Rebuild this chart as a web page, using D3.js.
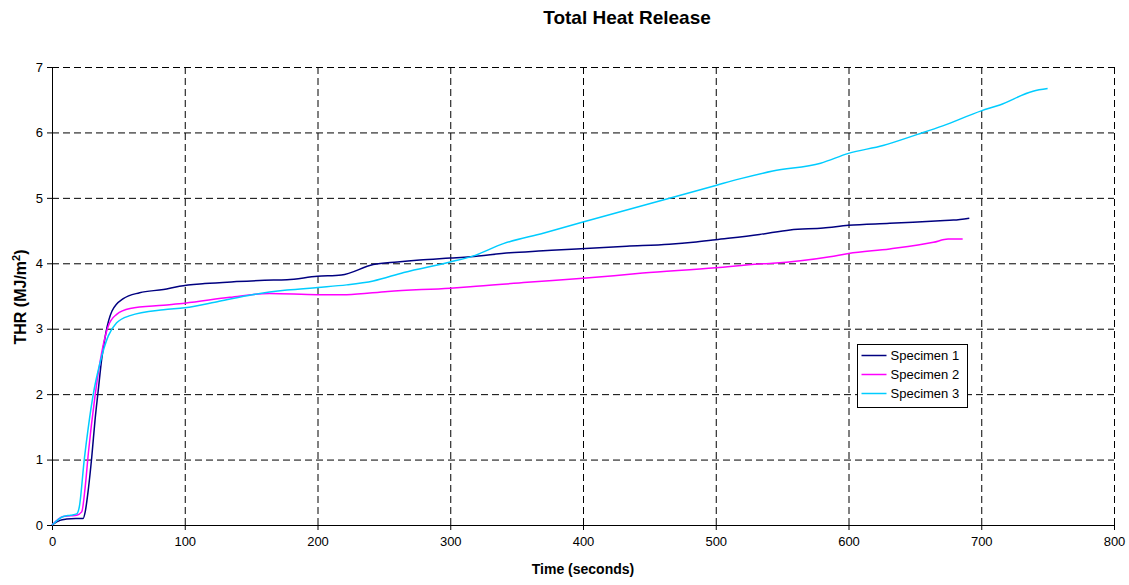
<!DOCTYPE html>
<html>
<head>
<meta charset="utf-8">
<script src="https://cdn.jsdelivr.net/npm/d3@7"></script>
<style>
  body { margin: 0; background: #fff; }
  text { font-family: "Liberation Sans", Arial, sans-serif; }
</style>
</head>
<body>
<div id="chart"></div>
<script>
// time in seconds, THR in MJ/m2
const seriesNames = ["Specimen 1", "Specimen 2", "Specimen 3"];
const seriesColors = ["#000080", "#ff00ff", "#00ccff"];

const spec1Time = [0, 6, 11, 18, 23.5, 25, 27.4, 30, 32.4, 34.9, 37.4, 40.6, 45.2, 53.7, 66, 84, 96, 115, 139, 160, 177, 200, 218, 242, 260, 277, 300, 315, 345, 370, 395, 433, 465, 483, 500, 533, 556, 581, 600, 631, 669, 679, 691];
const spec1Thr  = [0, 0.07, 0.09, 0.1, 0.1, 0.2, 0.55, 1.05, 1.6, 2.07, 2.53, 2.94, 3.27, 3.46, 3.55, 3.6, 3.65, 3.69, 3.72, 3.74, 3.75, 3.8, 3.82, 3.98, 4.02, 4.05, 4.08, 4.1, 4.16, 4.19, 4.22, 4.26, 4.29, 4.32, 4.36, 4.44, 4.51, 4.54, 4.58, 4.61, 4.65, 4.66, 4.69];

const spec2Time = [0, 8.5, 14, 18.6, 22.4, 24.9, 27.4, 32.4, 37.4, 42.4, 48.7, 58.8, 84, 100, 134, 164, 200, 222, 253, 300, 315, 358, 400, 445, 500, 533, 543, 586, 600, 631, 664, 675, 686];
const spec2Thr  = [0, 0.13, 0.14, 0.15, 0.2, 0.56, 1.1, 1.97, 2.63, 3.04, 3.22, 3.31, 3.36, 3.39, 3.48, 3.54, 3.52, 3.52, 3.57, 3.62, 3.64, 3.71, 3.77, 3.85, 3.93, 3.99, 4.0, 4.1, 4.15, 4.22, 4.32, 4.37, 4.37];

const spec3Time = [0, 8.5, 14, 18.6, 20.6, 24.3, 27.4, 31.1, 36.2, 42.4, 48.7, 58.8, 84, 100, 126, 151, 177, 200, 222, 242, 265, 300, 317, 340, 370, 400, 450, 500, 518, 543, 579, 600, 626, 652, 671, 700, 714, 739, 750];
const spec3Thr  = [0, 0.13, 0.15, 0.17, 0.28, 1.0, 1.5, 2.0, 2.48, 2.89, 3.09, 3.2, 3.29, 3.32, 3.42, 3.52, 3.59, 3.63, 3.67, 3.73, 3.86, 4.02, 4.11, 4.3, 4.46, 4.63, 4.91, 5.19, 5.29, 5.41, 5.53, 5.68, 5.8, 5.97, 6.1, 6.33, 6.42, 6.63, 6.67];

const xTicks = [0, 100, 200, 300, 400, 500, 600, 700, 800];
const yTicks = [0, 1, 2, 3, 4, 5, 6, 7];

const width = 1129;
const height = 585;
const plotLeft = 52, plotRight = 1114, plotTop = 67, plotBottom = 525;

const svg = d3.select("div#chart").append("svg")
    .attr("width", width)
    .attr("height", height);

const xScale = d3.scaleLinear().domain([0, 800]).range([plotLeft, plotRight]);
const yScale = d3.scaleLinear().domain([0, 7]).range([plotBottom, plotTop]);

// grid
svg.append("g")
  .selectAll("line")
  .data(yTicks.slice(1))
  .join("line")
    .attr("x1", plotLeft).attr("x2", plotRight)
    .attr("y1", d => yScale(d) + 0.5).attr("y2", d => yScale(d) + 0.5)
    .attr("stroke", "#000")
    .attr("stroke-dasharray", "7,4");

svg.append("g")
  .selectAll("line")
  .data(xTicks.slice(1))
  .join("line")
    .attr("x1", d => xScale(d) + 0.5).attr("x2", d => xScale(d) + 0.5)
    .attr("y1", plotTop).attr("y2", plotBottom)
    .attr("stroke", "#000")
    .attr("stroke-dasharray", "7,4");

// axes
const xaxis = d3.axisBottom(xScale).tickValues(xTicks).tickFormat(d3.format("d"))
    .tickSizeInner(5).tickSizeOuter(0).tickPadding(7);
const yaxis = d3.axisLeft(yScale).tickValues(yTicks).tickFormat(d3.format("d"))
    .tickSizeInner(5).tickSizeOuter(0).tickPadding(4);

svg.append("g")
  .attr("transform", "translate(0," + plotBottom + ")")
  .call(xaxis)
  .call(g => g.selectAll("text").attr("font-size", 13).attr("fill", "#000").style("font-family", "Liberation Sans, Arial, sans-serif"));

svg.append("g")
  .attr("transform", "translate(" + plotLeft + ",0)")
  .call(yaxis)
  .call(g => g.selectAll("text").attr("font-size", 13).attr("fill", "#000").style("font-family", "Liberation Sans, Arial, sans-serif"));

svg.selectAll(".domain").attr("stroke", "#000");
svg.selectAll(".tick line").attr("stroke", "#000");

// lines
const allSeries = [
  spec1Time.map((t, i) => [t, spec1Thr[i]]),
  spec2Time.map((t, i) => [t, spec2Thr[i]]),
  spec3Time.map((t, i) => [t, spec3Thr[i]])
];

const line = d3.line()
    .x(d => xScale(d[0]))
    .y(d => yScale(d[1]))
    .curve(d3.curveMonotoneX);

svg.append("g")
  .selectAll("path")
  .data(allSeries)
  .join("path")
    .attr("d", line)
    .attr("fill", "none")
    .attr("stroke", (d, i) => seriesColors[i])
    .attr("stroke-width", 1.5);

// titles
svg.append("text")
  .attr("x", 627).attr("y", 24)
  .attr("text-anchor", "middle")
  .attr("font-size", 19).attr("font-weight", "bold")
  .text("Total Heat Release");

svg.append("text")
  .attr("x", (plotLeft + plotRight) / 2).attr("y", 574)
  .attr("text-anchor", "middle")
  .attr("font-size", 14).attr("font-weight", "bold")
  .text("Time (seconds)");

const yt = svg.append("text")
  .attr("transform", "translate(26,297) rotate(-90)")
  .attr("text-anchor", "middle")
  .attr("font-size", 16).attr("font-weight", "bold");
yt.append("tspan").text("THR (MJ/m");
yt.append("tspan").attr("font-size", 11).attr("dy", -6).text("2");
yt.append("tspan").attr("dy", 6).text(")");

// legend
const lg = svg.append("g").attr("transform", "translate(857.5,344.5)");
lg.append("rect")
  .attr("width", 110).attr("height", 63)
  .attr("fill", "#fff").attr("stroke", "#000");

lg.selectAll("g")
  .data(seriesNames)
  .join("g")
  .attr("transform", (d, i) => "translate(0," + (11 + i * 19) + ")")
  .call(g => g.append("line")
      .attr("x1", 4).attr("x2", 29)
      .attr("stroke", (d, i) => seriesColors[i]).attr("stroke-width", 1.5))
  .call(g => g.append("text")
      .attr("x", 33).attr("dy", "0.35em")
      .attr("font-size", 13)
      .text(d => d));
</script>
</body>
</html>
